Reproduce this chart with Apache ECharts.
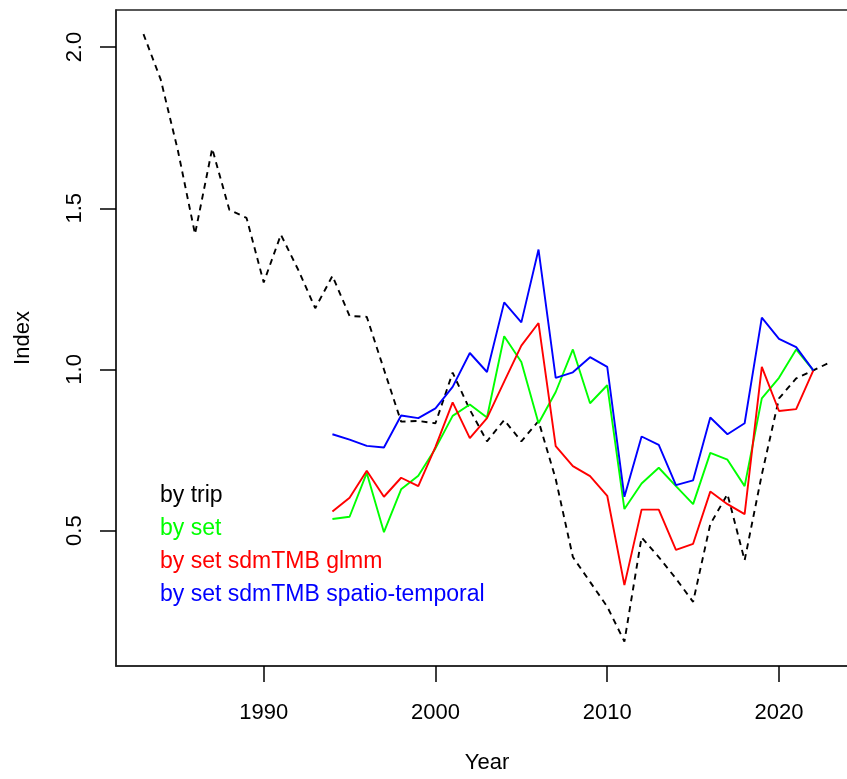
<!DOCTYPE html>
<html>
<head>
<meta charset="utf-8">
<script src="https://cdn.jsdelivr.net/npm/echarts@6/dist/echarts.min.js"></script>
<style>
html, body { margin: 0; padding: 0; background: #fff; }
/* the plot box runs past the right edge of the picture, as in the original */
#wrap { width: 847px; height: 779px; overflow: hidden; position: relative; }
#chart { width: 860px; height: 779px; position: absolute; left: 0; top: 0; }
</style>
</head>
<body>
<div id="wrap"><div id="chart"></div></div>
<script>
// index values
var tripYears = [1983, 1984, 1985, 1986, 1987, 1988, 1989, 1990, 1991, 1992,
	1993, 1994, 1995, 1996, 1997, 1998, 1999, 2000, 2001, 2002,
	2003, 2004, 2005, 2006, 2007, 2008, 2009, 2010, 2011, 2012,
	2013, 2014, 2015, 2016, 2017, 2018, 2019, 2020, 2021, 2022, 2023];
var byTrip = [2.04, 1.90, 1.68, 1.42, 1.685, 1.495, 1.47, 1.27, 1.418, 1.31,
	1.19, 1.29, 1.166, 1.163, 1.0, 0.838, 0.84, 0.833, 0.99, 0.875,
	0.777, 0.843, 0.777, 0.84, 0.66, 0.418, 0.341, 0.264, 0.156, 0.479,
	0.418, 0.351, 0.279, 0.52, 0.613, 0.408, 0.674, 0.91, 0.972, 0.997, 1.023];

var setYears = [1994, 1995, 1996, 1997, 1998, 1999, 2000, 2001, 2002, 2003,
	2004, 2005, 2006, 2007, 2008, 2009, 2010, 2011, 2012, 2013,
	2014, 2015, 2016, 2017, 2018, 2019, 2020, 2021, 2022];
var bySet = [0.536, 0.543, 0.679, 0.495, 0.628, 0.67, 0.755, 0.856, 0.891, 0.851,
	1.103, 1.023, 0.833, 0.93, 1.062, 0.895, 0.951, 0.567, 0.646, 0.695,
	0.638, 0.582, 0.741, 0.72, 0.638, 0.91, 0.974, 1.062, 0.997];
var bySetGlmm = [0.559, 0.602, 0.686, 0.605, 0.664, 0.638, 0.76, 0.898, 0.787, 0.849,
	0.962, 1.074, 1.144, 0.762, 0.70, 0.669, 0.608, 0.331, 0.565, 0.565,
	0.44, 0.459, 0.621, 0.582, 0.551, 1.008, 0.871, 0.877, 0.997];
var bySetSpatial = [0.799, 0.782, 0.763, 0.758, 0.857, 0.849, 0.879, 0.946, 1.051, 0.992,
	1.208, 1.146, 1.372, 0.974, 0.991, 1.038, 1.008, 0.605, 0.792, 0.766,
	0.641, 0.656, 0.851, 0.799, 0.833, 1.161, 1.095, 1.069, 0.997];

var xTicks = [1990, 2000, 2010, 2020];
var yTicks = [0.5, 1.0, 1.5, 2.0];
var legendNames = ["by trip", "by set", "by set sdmTMB glmm", "by set sdmTMB spatio-temporal"];
var legendColors = ["#000000", "#00ff00", "#ff0000", "#0000ff"];

var font = "Liberation Sans, Arial, sans-serif";

function pairs(years, values) {
	var out = [];
	for (var i = 0; i < years.length; i++) {
		out.push([years[i], values[i]]);
	}
	return out;
}

function lineSerie(name, data, color, dashed) {
	return {
		name: name,
		type: "line",
		data: data,
		symbol: "none",
		silent: true,
		animation: false,
		lineStyle: {
			color: color,
			width: 1.9,
			type: dashed ? [6, 5] : "solid"
		}
	};
}

var chart = echarts.init(document.getElementById("chart"), null, {renderer: "canvas"});

// legend drawn as plain text, like R's legend(bty = "n") with no line samples
var legendText = [];
for (var i = 0; i < legendNames.length; i++) {
	legendText.push({
		type: "text",
		left: 160,
		top: 484 + i * 33,
		style: {
			text: legendNames[i],
			fill: legendColors[i],
			font: "23px " + font
		}
	});
}

var options = {
	backgroundColor: "#ffffff",
	animation: false,
	grid: {
		left: 116,
		top: 10,
		right: 2,
		bottom: 109,
		show: true,
		borderColor: "#222",
		borderWidth: 1.5,
		backgroundColor: "transparent"
	},
	xAxis: {
		type: "value",
		min: 1981.4,
		max: 2024.6,
		name: "Year",
		nameLocation: "middle",
		nameGap: 86,
		nameTextStyle: {color: "#000", fontSize: 22, fontFamily: font},
		axisLine: {show: true, onZero: false, lineStyle: {color: "#222", width: 1.5}},
		axisTick: {show: true, inside: false, length: 16, customValues: xTicks, lineStyle: {color: "#000", width: 1.5}},
		axisLabel: {
			show: true,
			customValues: xTicks,
			margin: 36,
			color: "#000",
			fontSize: 22,
			fontFamily: font,
			formatter: function (v) { return String(v); }
		},
		splitLine: {show: false}
	},
	yAxis: {
		type: "value",
		min: 0.08,
		max: 2.115,
		name: "Index",
		nameLocation: "middle",
		nameGap: 82,
		nameRotate: 90,
		nameTextStyle: {color: "#000", fontSize: 22, fontFamily: font},
		axisLine: {show: true, onZero: false, lineStyle: {color: "#222", width: 1.5}},
		axisTick: {show: true, inside: false, length: 16, customValues: yTicks, lineStyle: {color: "#000", width: 1.5}},
		axisLabel: {
			show: true,
			customValues: yTicks,
			rotate: 90,
			margin: 30,
			color: "#000",
			fontSize: 22,
			fontFamily: font,
			formatter: function (v) { return v.toFixed(1); }
		},
		splitLine: {show: false}
	},
	graphic: legendText,
	series: [
		lineSerie("by trip", pairs(tripYears, byTrip), "#000000", true),
		lineSerie("by set", pairs(setYears, bySet), "#00ff00", false),
		lineSerie("by set sdmTMB glmm", pairs(setYears, bySetGlmm), "#ff0000", false),
		lineSerie("by set sdmTMB spatio-temporal", pairs(setYears, bySetSpatial), "#0000ff", false)
	]
};

chart.setOption(options);
</script>
</body>
</html>
